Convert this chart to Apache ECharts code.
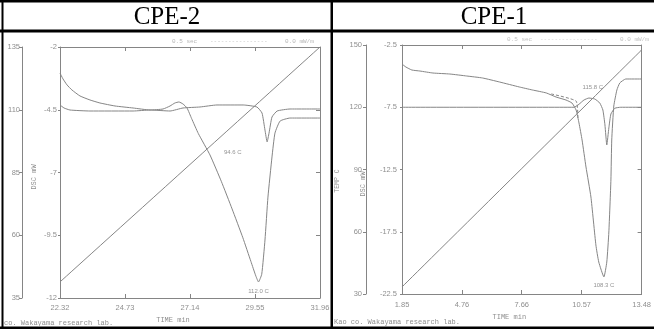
<!DOCTYPE html>
<html><head><meta charset="utf-8">
<script src="https://cdn.jsdelivr.net/npm/echarts@6/dist/echarts.min.js"></script>
<style>html,body{margin:0;padding:0;background:#fff;}#c{width:654px;height:329px;}</style>
</head><body><div id="c"></div>
<script>
// ---------- data ----------
const titles = ['CPE-2', 'CPE-1'];

const cpe2TimeTicks = [22.32, 24.73, 27.14, 29.55, 31.96];
const cpe2DscTicks = [-12, -9.5, -7, -4.5, -2];
const cpe2TempTicks = [35, 60, 85, 110, 135];
const cpe2RunA = [[22.32,-3.04],[22.43,-3.27],[22.58,-3.51],[22.76,-3.71],[23.06,-3.95],[23.43,-4.11],[23.80,-4.23],[24.36,-4.35],[25.03,-4.43],[25.66,-4.51],[26.14,-4.47],[26.40,-4.35],[26.58,-4.23],[26.73,-4.19],[26.88,-4.27],[27.03,-4.43],[27.20,-4.85],[27.45,-5.45],[27.88,-6.30],[28.30,-7.35],[28.70,-8.45],[29.10,-9.60],[29.40,-10.55],[29.58,-11.12],[29.68,-11.36],[29.80,-11.05],[29.92,-9.69],[30.03,-7.98],[30.18,-6.38],[30.29,-5.43],[30.48,-4.95],[30.85,-4.83],[31.96,-4.83]];
const cpe2RunB = [[22.32,-4.31],[22.47,-4.43],[22.69,-4.51],[23.43,-4.55],[25.03,-4.55],[25.66,-4.51],[26.40,-4.55],[26.88,-4.43],[27.51,-4.39],[28.14,-4.31],[29.11,-4.31],[29.62,-4.39],[29.81,-4.63],[29.92,-5.31],[30.00,-5.78],[30.07,-5.43],[30.18,-4.79],[30.37,-4.55],[30.85,-4.47],[31.96,-4.47]];
const cpe2Temp = [[22.32,41.4],[31.96,135.0]];
const cpe2Notes = [['94.6 C',27.88,-6.18],['112.0 C',29.68,-11.36]];

const cpe1TimeTicks = [1.85, 4.76, 7.66, 10.57, 13.48];
const cpe1DscTicks = [-22.5, -17.5, -12.5, -7.5, -2.5];
const cpe1TempTicks = [30, 60, 90, 120, 150];
const cpe1RunC = [[1.85,-4.03],[2.04,-4.27],[2.33,-4.51],[2.72,-4.59],[3.35,-4.75],[4.17,-4.83],[4.99,-4.99],[5.76,-5.15],[6.58,-5.47],[7.54,-5.87],[8.17,-6.11],[8.85,-6.35],[9.33,-6.68],[9.81,-6.92],[10.10,-7.16],[10.30,-7.72],[10.44,-8.76],[10.59,-10.13],[10.78,-12.30],[11.02,-14.71],[11.26,-18.56],[11.40,-19.93],[11.65,-21.13],[11.79,-19.93],[11.89,-17.52],[11.99,-13.34],[12.03,-10.13],[12.13,-7.40],[12.28,-6.11],[12.42,-5.55],[12.71,-5.23],[13.48,-5.23]];
const cpe1RunD = [[1.85,-7.5],[10.20,-7.5],[10.44,-7.26],[10.68,-6.92],[10.92,-6.76],[11.21,-6.84],[11.45,-7.16],[11.60,-7.72],[11.70,-8.92],[11.79,-10.53],[11.89,-9.16],[11.99,-8.04],[12.18,-7.58],[12.47,-7.5],[13.48,-7.5]];
const cpe1Baseline = [[9.09,-6.43],[10.30,-7.00],[10.39,-8.36]];
const cpe1Temp = [[1.85,33.4],[13.48,147.6]];
const cpe1Notes = [['115.8 C',10.92,-6.76],['108.3 C',11.65,-21.13]];

// ---------- styling ----------
const LINE = '#858585';
const TXT = '#8f8f8f';
const SANS = 'Liberation Sans';
const MONO = 'Liberation Mono';

function xAxes(grid, ticks, namePad, nameGap, margin) {
  const base = {
    gridIndex: grid, type: 'value', min: ticks[0], max: ticks[ticks.length - 1],
    axisLine: {show: true, lineStyle: {color: LINE, width: 1}},
    splitLine: {show: false}
  };
  return [
    Object.assign({}, base, {
      position: 'bottom', name: 'TIME min', nameLocation: 'middle', nameGap: nameGap,
      nameTextStyle: {color: TXT, fontFamily: MONO, fontSize: 7, padding: [0, namePad, 0, 0]},
      axisTick: {show: true, inside: true, length: 4, lineStyle: {color: LINE}, customValues: ticks},
      axisLabel: {show: true, color: TXT, fontFamily: SANS, fontSize: 7.5, margin: margin, customValues: ticks,
        showMinLabel: true, showMaxLabel: true}
    }),
    Object.assign({}, base, {
      position: 'top',
      axisTick: {show: true, inside: true, length: 4, lineStyle: {color: LINE}, customValues: ticks},
      axisLabel: {show: false}
    })
  ];
}

function yAxes(grid, dscTicks, tempTicks, tempOffset, dscGap, dscPad, tempName, tempGap, tempPad, dscMargin, tempMargin) {
  return [
    {
      gridIndex: grid, type: 'value', position: 'left', min: dscTicks[0], max: dscTicks[dscTicks.length - 1],
      name: 'DSC mW', nameLocation: 'middle', nameGap: dscGap,
      nameTextStyle: {color: TXT, fontFamily: MONO, fontSize: 7, padding: [0, dscPad, 0, 0]},
      axisLine: {show: true, lineStyle: {color: LINE}},
      axisTick: {show: true, length: 2, lineStyle: {color: LINE}, customValues: dscTicks},
      axisLabel: {color: TXT, fontFamily: SANS, fontSize: 7.5, margin: dscMargin, customValues: dscTicks},
      splitLine: {show: false}
    },
    {
      gridIndex: grid, type: 'value', position: 'left', offset: tempOffset,
      min: tempTicks[0], max: tempTicks[tempTicks.length - 1],
      name: tempName, nameLocation: 'middle', nameGap: tempGap,
      nameTextStyle: {color: TXT, fontFamily: MONO, fontSize: 6.5, padding: [0, tempPad, 0, 0]},
      axisLine: {show: true, lineStyle: {color: LINE}},
      axisTick: {show: true, length: 3, lineStyle: {color: LINE}, customValues: tempTicks},
      axisLabel: {color: TXT, fontFamily: SANS, fontSize: 7.5, margin: tempMargin, customValues: tempTicks},
      splitLine: {show: false}
    },
    {
      gridIndex: grid, type: 'value', position: 'right', min: dscTicks[0], max: dscTicks[dscTicks.length - 1],
      axisLine: {show: true, lineStyle: {color: LINE}},
      axisTick: {show: true, inside: true, length: 4, lineStyle: {color: LINE}, customValues: dscTicks},
      axisLabel: {show: false},
      splitLine: {show: false}
    }
  ];
}

function curve(xi, yi, data, dashed) {
  return {
    type: 'line', xAxisIndex: xi, yAxisIndex: yi, data: data, symbol: 'none',
    smooth: 0.15, silent: true,
    lineStyle: {color: LINE, width: 1, type: dashed ? [3, 2] : 'solid'}
  };
}

function notes(xi, yi, list, positions) {
  return {
    type: 'scatter', xAxisIndex: xi, yAxisIndex: yi, symbolSize: 0, silent: true,
    data: list.map((n, i) => ({
      value: [n[1], n[2]], name: n[0],
      label: Object.assign({show: true, formatter: '{b}', color: '#777', fontFamily: SANS, fontSize: 6}, positions[i])
    }))
  };
}

const chart = echarts.init(document.getElementById('c'), null, {renderer: 'canvas'});

const tableLines = [
  {x: 0, y: 0, w: 654, h: 2.5},
  {x: 0, y: 29.5, w: 654, h: 3},
  {x: 0, y: 326.5, w: 654, h: 2.5},
  {x: 1.5, y: 0, w: 2, h: 329},
  {x: 330.5, y: 0, w: 2.5, h: 329}
].map(r => ({type: 'rect', shape: {x: r.x, y: r.y, width: r.w, height: r.h}, style: {fill: '#000'}, silent: true}));

const texts = [
  {type: 'text', x: 167, y: 17, style: {text: titles[0], fill: '#000', font: '25px "Liberation Serif"', textAlign: 'center', textVerticalAlign: 'middle'}},
  {type: 'text', x: 494, y: 17, style: {text: titles[1], fill: '#000', font: '25px "Liberation Serif"', textAlign: 'center', textVerticalAlign: 'middle'}},
  {type: 'text', x: 172, y: 41, style: {text: '0.5 sec', fill: '#b5b5b5', font: '6px "Liberation Mono"', textVerticalAlign: 'middle'}},
  {type: 'text', x: 210, y: 41, style: {text: '----------------', fill: '#c0c0c0', font: '6px "Liberation Mono"', textVerticalAlign: 'middle'}},
  {type: 'text', x: 285, y: 41, style: {text: '0.0 mW/m', fill: '#b5b5b5', font: '6px "Liberation Mono"', textVerticalAlign: 'middle'}},
  {type: 'text', x: 507, y: 39, style: {text: '0.5 sec', fill: '#c0c0c0', font: '6px "Liberation Mono"', textVerticalAlign: 'middle'}},
  {type: 'text', x: 540, y: 39, style: {text: '----------------', fill: '#d0d0d0', font: '6px "Liberation Mono"', textVerticalAlign: 'middle'}},
  {type: 'text', x: 620, y: 39, style: {text: '0.0 mW/m', fill: '#c0c0c0', font: '6px "Liberation Mono"', textVerticalAlign: 'middle'}},
  {type: 'text', x: 4, y: 323, style: {text: 'co. Wakayama research lab.', fill: TXT, font: '7px "Liberation Mono"', textVerticalAlign: 'middle'}},
  {type: 'text', x: 334, y: 322.5, style: {text: 'Kao co. Wakayama research lab.', fill: TXT, font: '7px "Liberation Mono"', textVerticalAlign: 'middle'}}
];

chart.setOption({
  animation: false,
  backgroundColor: '#fff',
  grid: [
    {left: 60, top: 47, width: 260, height: 251},
    {left: 402, top: 45, width: 241, height: 249}
  ],
  xAxis: [].concat(
    xAxes(0, cpe2TimeTicks, 34, 14, 6),
    xAxes(1, cpe1TimeTicks, 25, 19, 7)
  ),
  yAxis: [].concat(
    yAxes(0, cpe2DscTicks, cpe2TempTicks, 38, 22, 9, '', 20, 0, 3, 2),
    yAxes(1, cpe1DscTicks, cpe1TempTicks, 36, 35, 29, 'TEMP C', 25, 23, 5, 4)
  ),
  series: [
    curve(0, 1, cpe2Temp),
    curve(0, 0, cpe2RunA),
    curve(0, 0, cpe2RunB),
    notes(0, 0, cpe2Notes, [{position: 'right', distance: 14}, {position: 'bottom', distance: 6}]),
    curve(2, 4, cpe1Temp),
    curve(2, 3, cpe1RunC),
    curve(2, 3, cpe1RunD),
    curve(2, 3, cpe1Baseline, true),
    notes(2, 3, cpe1Notes, [{position: 'top', distance: 8, offset: [4, 0]}, {position: 'bottom', distance: 5}])
  ],
  graphic: tableLines.concat(texts)
});
</script></body></html>
